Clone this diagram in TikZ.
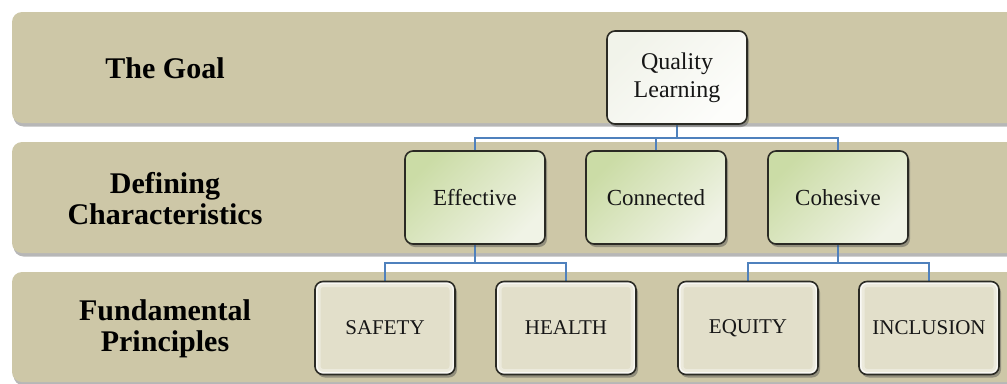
\documentclass[tikz,border=0pt]{standalone}
\usepackage{fontspec}
\setmainfont{Liberation Serif}
\usetikzlibrary{shadows}
\definecolor{bandtan}{HTML}{CDC7A7}
\definecolor{boxline}{HTML}{2A2A24}
\definecolor{greenA}{HTML}{CBDCA6}
\definecolor{greenB}{HTML}{F0F3E6}
\definecolor{qlA}{HTML}{F1F3EA}
\definecolor{qlB}{HTML}{FDFDFB}
\definecolor{botfill}{HTML}{E2DFCA}
\definecolor{connblue}{HTML}{4F81BD}
\definecolor{txt}{HTML}{161616}
\tikzset{
  band/.style={fill=bandtan, rounded corners=10pt,
    drop shadow={shadow xshift=1.5pt, shadow yshift=-3.5pt, opacity=.4, fill=black!70}},
  bandlabel/.style={align=center, text=black, font=\bfseries\fontsize{30}{31.5}\selectfont},
  basebox/.style={draw=boxline, line width=1.6pt, rounded corners=8pt,
    minimum width=140pt, minimum height=93pt, inner sep=0pt, text=txt,
    drop shadow={shadow xshift=2pt, shadow yshift=-3pt, opacity=.45, fill=black!70}},
  goalbox/.style={basebox, left color=qlA, right color=qlB, shading angle=45,
    align=center, font=\fontsize{24}{28}\selectfont},
  charbox/.style={basebox, left color=greenA, right color=greenB, shading angle=45,
    font=\fontsize{23}{26}\selectfont},
  princbox/.style={basebox, fill=botfill, font=\fontsize{21}{24}\selectfont,
    path picture={
      \draw[white, line width=11pt, opacity=.35, rounded corners=8pt]
        (path picture bounding box.south west) rectangle (path picture bounding box.north east);
      \draw[white, line width=5pt, opacity=.7, rounded corners=8pt]
        (path picture bounding box.south west) rectangle (path picture bounding box.north east);
    }},
  conn/.style={draw=connblue, line width=1.5pt}
}
\begin{document}
\begin{tikzpicture}[x=1pt,y=-1pt]
\useasboundingbox (0,0) rectangle (1007,383);
\clip (0,0) rectangle (1007,383);
% bands
\path[band] (12,12) rectangle (1040,123);
\path[band] (12,142) rectangle (1040,253);
\path[band] (12,272) rectangle (1040,382);
% band labels
\node[bandlabel] (lgoal) at (165,68) {The Goal};
\node[bandlabel] (lchar) at (165,198.5) {Defining\\Characteristics};
\node[bandlabel] (lprinc) at (165,329) {Fundamental\\Principles};
% junctions
\coordinate (j1) at (677,138);
\coordinate (j2) at (475,263);
\coordinate (j3) at (838,263);
% boxes positions
\coordinate (pql) at (677,77.5);
\coordinate (peff) at (475,197.5);
\coordinate (pcon) at (656,197.5);
\coordinate (pcoh) at (838,197.5);
\coordinate (psaf) at (385,328);
\coordinate (phea) at (566,328);
\coordinate (pequ) at (748,328);
\coordinate (pinc) at (929,328);
% invisible anchors for connectors
\path (pql) node[minimum width=140pt, minimum height=93pt] (ql0) {};
\path (peff) node[minimum width=140pt, minimum height=93pt] (eff0) {};
\path (pcon) node[minimum width=140pt, minimum height=93pt] (con0) {};
\path (pcoh) node[minimum width=140pt, minimum height=93pt] (coh0) {};
\path (psaf) node[minimum width=140pt, minimum height=93pt] (saf0) {};
\path (phea) node[minimum width=140pt, minimum height=93pt] (hea0) {};
\path (pequ) node[minimum width=140pt, minimum height=93pt] (equ0) {};
\path (pinc) node[minimum width=140pt, minimum height=93pt] (inc0) {};
% connectors
\draw[conn] (ql0.south) -- (j1);
\draw[conn] (j1) -| (eff0.north);
\draw[conn] (j1) -| (con0.north);
\draw[conn] (j1) -| (coh0.north);
\draw[conn] (eff0.south) -- (j2);
\draw[conn] (j2) -| (saf0.north);
\draw[conn] (j2) -| (hea0.north);
\draw[conn] (coh0.south) -- (j3);
\draw[conn] (j3) -| (equ0.north);
\draw[conn] (j3) -| (inc0.north);
% boxes
\node[goalbox] (ql) at (pql) {Quality\\Learning};
\node[charbox] (eff) at (peff) {Effective};
\node[charbox] (con) at (pcon) {Connected};
\node[charbox] (coh) at (pcoh) {Cohesive};
\node[princbox] (saf) at (psaf) {SAFETY};
\node[princbox] (hea) at (phea) {HEALTH};
\node[princbox] (equ) at (pequ) {EQUITY};
\node[princbox] (inc) at (pinc) {INCLUSION};
\end{tikzpicture}
\end{document}
